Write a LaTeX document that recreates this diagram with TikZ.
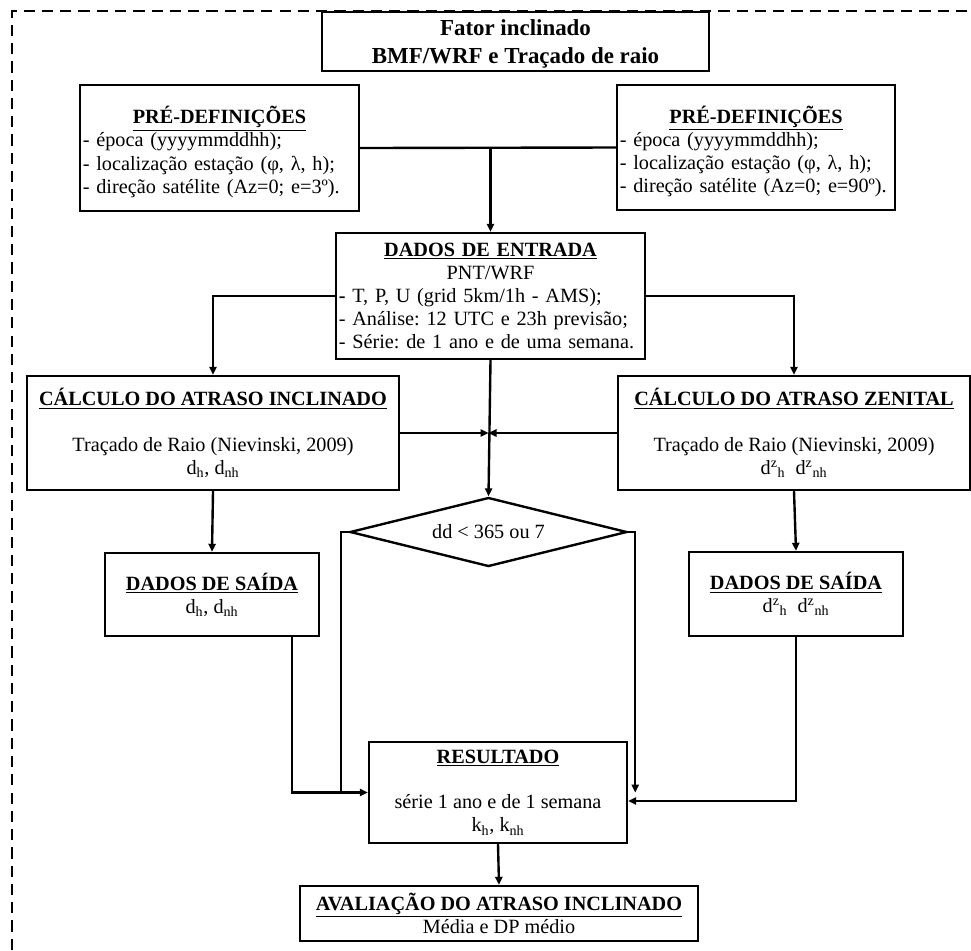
\documentclass[tikz,border=0pt]{standalone}
\usepackage{fontspec}
\setmainfont{Liberation Serif}
\usetikzlibrary{arrows.meta,shapes.geometric,calc}

\tikzset{
  caixa/.style={draw,line width=1.7pt,inner sep=2pt,align=center,fill=white},
  caixalista/.style={caixa,align=left},
  fluxo/.style={line width=1.7pt},
}
\newcommand{\titulo}[1]{\underline{\textbf{#1}}}

\begin{document}
\frenchspacing
\begin{tikzpicture}[x=0.025cm,y=-0.025cm,>={Triangle[length=2mm,width=1.8mm]},font=\fontsize{14.4}{16.4}\selectfont]
\useasboundingbox (0,0) rectangle (971,950);
\draw[line width=1.6pt,dash pattern=on 8pt off 5pt] (12,950) -- (12,11) -- (971,11);

% caixas
\node[caixa,minimum width=9.675cm,minimum height=1.475cm,font=\fontsize{16.3}{20}\selectfont\bfseries] (tit) at (515.5,41.5) {\rule{0pt}{15pt}Fator inclinado\\BMF/WRF e Traçado de raio};
\node[caixalista,minimum width=6.975cm,minimum height=3.15cm,text width=6.83cm] (preL) at (219.5,148) {\makebox[\linewidth]{\rule{0pt}{18pt}\titulo{PRÉ-DEFINIÇÕES}}\\- época (yyyymmddhh);\\- localização estação (φ, λ, h);\\- direção satélite (Az=0; e=3º).};
\node[caixalista,minimum width=6.95cm,minimum height=3.125cm,text width=6.81cm] (preR) at (756,147.5) {\makebox[\linewidth]{\rule{0pt}{18pt}\titulo{PRÉ-DEFINIÇÕES}}\\- época (yyyymmddhh);\\- localização estação (φ, λ, h);\\- direção satélite (Az=0; e=90º).};
\node[caixalista,minimum width=7.725cm,minimum height=3.15cm,text width=7.58cm] (ent) at (490.5,296) {\makebox[\linewidth]{\titulo{DADOS DE ENTRADA}}\\\makebox[\linewidth]{PNT/WRF}\\\textbf{-} T, P, U (grid 5km/1h - AMS);\\- Análise: 12 UTC e 23h previsão;\\- Série: de 1 ano e de uma semana.};
\node[caixa,minimum width=9.3cm,minimum height=2.85cm] (calcL) at (213,433) {\titulo{CÁLCULO DO ATRASO INCLINADO}\\[16pt]Traçado de Raio (Nievinski, 2009)\\d\textsubscript{h}, d\textsubscript{nh}};
\node[caixa,minimum width=8.8cm,minimum height=2.85cm] (calcR) at (794,433) {\titulo{CÁLCULO DO ATRASO ZENITAL}\\[16pt]Traçado de Raio (Nievinski, 2009)\\d\textsuperscript{z}\textsubscript{h}\ \ d\textsuperscript{z}\textsubscript{nh}};
\node[caixa,diamond,aspect=4,minimum width=6.925cm,minimum height=1.725cm] (dd) at (488.5,532) {dd < 365 ou 7};
\node[caixa,minimum width=5.35cm,minimum height=2.075cm] (outL) at (212,594.5) {\titulo{DADOS DE SAÍDA}\\d\textsubscript{h}, d\textsubscript{nh}};
\node[caixa,minimum width=5.35cm,minimum height=2.1cm] (outR) at (796,594) {\titulo{DADOS DE SAÍDA}\\d\textsuperscript{z}\textsubscript{h}\ \ d\textsuperscript{z}\textsubscript{nh}};
\node[caixa,minimum width=6.45cm,minimum height=2.525cm] (res) at (498,792.5) {\titulo{RESULTADO}\\[16pt]série 1 ano e de 1 semana\\k\textsubscript{h}, k\textsubscript{nh}};
\node[caixa,minimum width=9.95cm,minimum height=1.375cm] (aval) at (499,913.5) {\titulo{AVALIAÇÃO DO ATRASO INCLINADO}\\Média e DP médio};

% ligacoes
\draw[fluxo] (preL.east) -- (preR.west);
\draw[fluxo,->] (preL.east -| ent.north) -- (ent.north);
\draw[fluxo,->] (ent.west) -| (calcL.north);
\draw[fluxo,->] (ent.east) -| (calcR.north);
\draw[fluxo,->] (ent.south) -- (dd.north);
\draw[fluxo,->] (calcL.east) -- (calcL.east -| dd.north);
\draw[fluxo,->] (calcR.west) -- (calcR.west -| dd.north);
\draw[fluxo,->] (calcL.south) -- (outL.north);
\draw[fluxo,->] (calcR.south) -- (outR.north);
\draw[fluxo,->] ($(outL.south east)+(-28,0)$) |- (res.west);
\draw[fluxo] (dd.west) -- ++(-8,0) coordinate (ddE) -- (ddE |- res.west);
\draw[fluxo,->] (dd.east) -- ++(7,0) coordinate (ddD) -- (ddD |- res.west);
\draw[fluxo,->] (outR.south) |- ($(res.east)+(0,8.5)$);
\draw[fluxo,->] (res.south) -- (aval.north);
\end{tikzpicture}
\end{document}
